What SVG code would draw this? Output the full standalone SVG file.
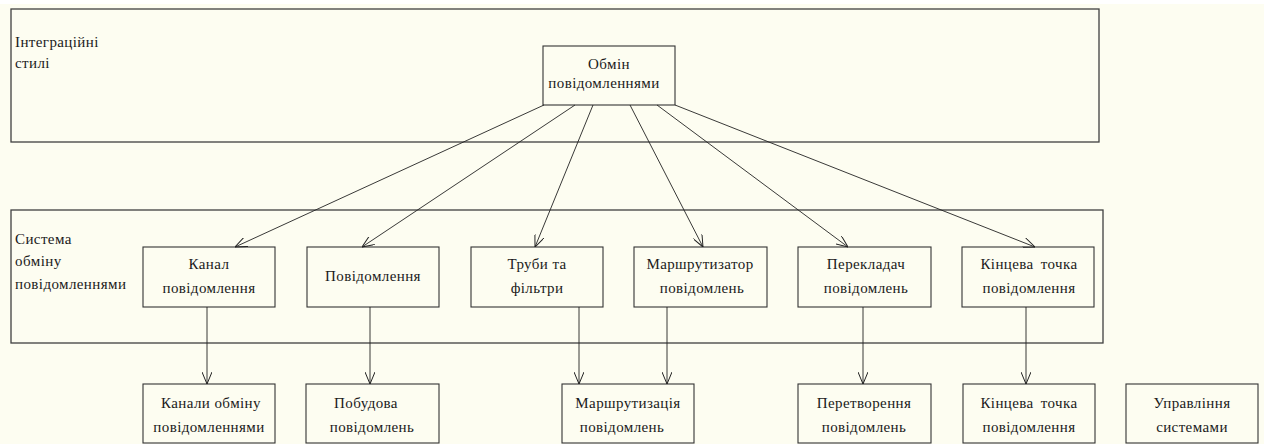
<svg xmlns="http://www.w3.org/2000/svg" width="1264" height="444" viewBox="0 0 1264 444">
  <style>
    .frame { fill: none; stroke: #404040; stroke-width: 1.3; }
    .box { fill: none; stroke: #333; stroke-width: 1.1; }
    .edge { fill: none; stroke: #222; stroke-width: 0.9; }
    text { font-family: "Liberation Serif", "DejaVu Serif", serif; font-size: 15px; letter-spacing: 0.4px; fill: #1a1a1a; }
    .c { text-anchor: middle; }
  </style>
  <defs>
    <marker id="arrow" viewBox="0 0 12 10" refX="12" refY="5" markerWidth="12" markerHeight="10" markerUnits="userSpaceOnUse" orient="auto">
      <path d="M0,0 L12,5 L0,10" fill="none" stroke="#222" stroke-width="1"/>
    </marker>
  </defs>

  <rect x="0" y="0" width="1264" height="444" fill="#fdfdf1"/>
  <rect x="0" y="0" width="1264" height="4" fill="#ffffff"/>

  <!-- Layer frames -->
  <g id="frame-styles" font-family="Liberation Serif, serif">
    <rect class="frame" x="11" y="9" width="1088" height="133"/>
    <text x="15" y="47">Інтеграційні</text>
    <text x="15" y="68">стилі</text>
  </g>
  <g id="frame-messaging">
    <rect class="frame" x="11" y="210" width="1092" height="133"/>
    <text x="15" y="244">Система</text>
    <text x="15" y="266">обміну</text>
    <text x="15" y="289">повідомленнями</text>
  </g>

  <!-- Root node -->
  <g id="n-messaging">
    <rect class="box" x="543" y="46" width="132" height="59"/>
    <text class="c" x="609" y="69">Обмін</text>
    <text class="c" x="604" y="88">повідомленнями</text>
  </g>

  <!-- Middle row -->
  <g id="n-channel">
    <rect class="box" x="143" y="247" width="132" height="60"/>
    <text class="c" x="209" y="269">Канал</text>
    <text class="c" x="209" y="293">повідомлення</text>
  </g>
  <g id="n-message">
    <rect class="box" x="307" y="247" width="132" height="60"/>
    <text class="c" x="373" y="281">Повідомлення</text>
  </g>
  <g id="n-pipes">
    <rect class="box" x="471" y="247" width="132" height="60"/>
    <text class="c" x="537" y="269">Труби та</text>
    <text class="c" x="537" y="293">фільтри</text>
  </g>
  <g id="n-router">
    <rect class="box" x="634" y="247" width="133" height="60"/>
    <text class="c" x="700" y="269">Маршрутизатор</text>
    <text class="c" x="702" y="293">повідомлень</text>
  </g>
  <g id="n-translator">
    <rect class="box" x="798" y="247" width="133" height="60"/>
    <text class="c" x="866" y="269">Перекладач</text>
    <text class="c" x="866" y="293">повідомлень</text>
  </g>
  <g id="n-endpoint">
    <rect class="box" x="962" y="247" width="132" height="60"/>
    <text class="c" x="1029" y="269" word-spacing="3">Кінцева точка</text>
    <text class="c" x="1029" y="293">повідомлення</text>
  </g>

  <!-- Bottom row -->
  <g id="n-channels">
    <rect class="box" x="143" y="384" width="132" height="59"/>
    <text class="c" x="211" y="408">Канали обміну</text>
    <text class="c" x="209" y="432">повідомленнями</text>
  </g>
  <g id="n-construction">
    <rect class="box" x="306" y="384" width="133" height="59"/>
    <text class="c" x="366" y="408">Побудова</text>
    <text class="c" x="372" y="432">повідомлень</text>
  </g>
  <g id="n-routing">
    <rect class="box" x="562" y="384" width="132" height="59"/>
    <text class="c" x="628" y="408">Маршрутизація</text>
    <text class="c" x="622" y="432">повідомлень</text>
  </g>
  <g id="n-transformation">
    <rect class="box" x="798" y="384" width="133" height="59"/>
    <text class="c" x="864" y="408">Перетворення</text>
    <text class="c" x="864" y="432">повідомлень</text>
  </g>
  <g id="n-endpoints">
    <rect class="box" x="963" y="384" width="132" height="59"/>
    <text class="c" x="1029" y="408" word-spacing="3">Кінцева точка</text>
    <text class="c" x="1029" y="432">повідомлення</text>
  </g>
  <g id="n-management">
    <rect class="box" x="1126" y="384" width="132" height="59"/>
    <text class="c" x="1192" y="408">Управління</text>
    <text class="c" x="1192" y="432">системами</text>
  </g>

  <!-- Connectors -->
  <g id="connectors">
    <line class="edge" x1="544" y1="105" x2="235" y2="247" marker-end="url(#arrow)"/>
    <line class="edge" x1="575" y1="105" x2="362" y2="247" marker-end="url(#arrow)"/>
    <line class="edge" x1="593" y1="105" x2="535" y2="247" marker-end="url(#arrow)"/>
    <line class="edge" x1="630" y1="105" x2="703" y2="247" marker-end="url(#arrow)"/>
    <line class="edge" x1="657" y1="105" x2="848" y2="247" marker-end="url(#arrow)"/>
    <line class="edge" x1="675" y1="105" x2="1035" y2="247" marker-end="url(#arrow)"/>

    <line class="edge" x1="207" y1="307" x2="207" y2="384" marker-end="url(#arrow)"/>
    <line class="edge" x1="370" y1="307" x2="370" y2="384" marker-end="url(#arrow)"/>
    <line class="edge" x1="579" y1="307" x2="579" y2="384" marker-end="url(#arrow)"/>
    <line class="edge" x1="667" y1="307" x2="667" y2="384" marker-end="url(#arrow)"/>
    <line class="edge" x1="863" y1="307" x2="863" y2="384" marker-end="url(#arrow)"/>
    <line class="edge" x1="1026" y1="307" x2="1026" y2="384" marker-end="url(#arrow)"/>
  </g>
</svg>
